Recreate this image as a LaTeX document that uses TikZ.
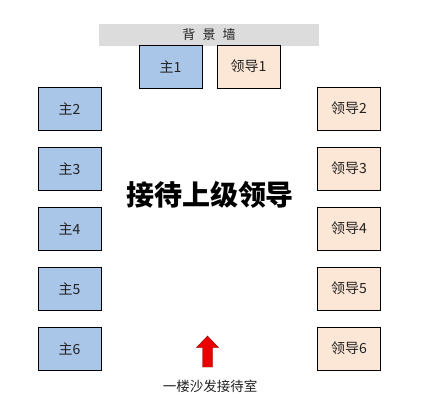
\documentclass[tikz,border=0pt]{standalone}
\usepackage{fontspec}
\newfontfamily\cjk{Noto Sans CJK SC}
\definecolor{hostblue}{HTML}{A9C5E8}
\definecolor{guestor}{HTML}{FCE6D6}
\definecolor{wallgray}{HTML}{DCDCDC}
\definecolor{txt}{HTML}{222222}
\tikzset{
  seat/.style={draw=black, line width=0.9pt, minimum width=63pt, minimum height=43pt, inner sep=0pt, font=\cjk\fontsize{14}{16}\selectfont, text=txt},
  host/.style={seat, fill=hostblue},
  guest/.style={seat, fill=guestor},
}
\begin{document}
\begin{tikzpicture}[x=1pt,y=-1pt]
\useasboundingbox (0,0) rectangle (421,407);
\fill[white] (0,0) rectangle (421,407);
\node[fill=wallgray, minimum width=220pt, minimum height=22pt, inner sep=0pt, font=\cjk\fontsize{13}{15}\selectfont, text=txt] (wall) at (209,34.5) {背\hspace{0.55em}景\hspace{0.55em}墙};
\node[host] (h1) at (170.5,66.5) {主1};
\node[guest] (g1) at (248.5,66.5) {领导1};
\foreach \i/\y in {2/108.5,3/168.5,4/228.5,5/288.5,6/348.5}{
  \node[host] (h\i) at (69.5,\y) {主\i};
  \node[guest] (g\i) at (349,\y) {领导\i};
}
\node[font=\cjk\bfseries\fontsize{28}{32}\selectfont, text=black] (title) at (210,195) {接待上级领导};
\fill[red!92!black, draw=red!55!black, line width=0.4pt] (207.5,336) -- (218.5,347.5) -- (212.5,347.5) -- (212.5,367) -- (202.5,367) -- (202.5,347.5) -- (196.5,347.5) -- cycle;
\node[font=\cjk\fontsize{13.5}{15}\selectfont, text=txt] (room) at (210,386.5) {一楼沙发接待室};
\end{tikzpicture}
\end{document}
